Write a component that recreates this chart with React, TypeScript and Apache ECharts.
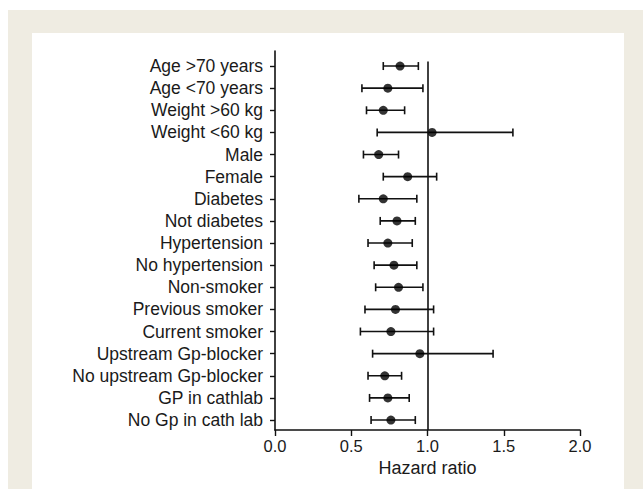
import React, { useEffect, useRef } from "react";
import * as echarts from "echarts";

const labels = [
  "Age >70 years",
  "Age <70 years",
  "Weight >60 kg",
  "Weight <60 kg",
  "Male",
  "Female",
  "Diabetes",
  "Not diabetes",
  "Hypertension",
  "No hypertension",
  "Non-smoker",
  "Previous smoker",
  "Current smoker",
  "Upstream Gp-blocker",
  "No upstream Gp-blocker",
  "GP in cathlab",
  "No Gp in cath lab",
];
const hazardRatio = [0.82, 0.74, 0.71, 1.03, 0.68, 0.87, 0.71, 0.8, 0.74, 0.78, 0.81, 0.79, 0.76, 0.95, 0.72, 0.74, 0.76];
const lowerCI = [0.71, 0.57, 0.6, 0.67, 0.58, 0.71, 0.55, 0.69, 0.61, 0.65, 0.66, 0.59, 0.56, 0.64, 0.61, 0.62, 0.63];
const upperCI = [0.94, 0.97, 0.85, 1.56, 0.81, 1.06, 0.93, 0.92, 0.9, 0.93, 0.97, 1.04, 1.04, 1.43, 0.83, 0.88, 0.92];
const xTicks = [0, 0.5, 1, 1.5, 2];

export default function App() {
  const ref = useRef<HTMLDivElement>(null);
  useEffect(() => {
    if (!ref.current) return;
    const chart = echarts.init(ref.current, null, { renderer: "svg" });
    const positions = labels.map((_, i) => i + 1);
    const font = "'Liberation Sans', Arial, Helvetica, sans-serif";
    chart.setOption({
      animation: false,
      backgroundColor: "transparent",
      grid: { left: 275, right: 63, top: 51, bottom: 59, containLabel: false },
      xAxis: {
        type: "value",
        min: 0,
        max: 2,
        interval: 0.5,
        name: "Hazard ratio",
        nameLocation: "middle",
        nameGap: 27,
        nameTextStyle: { fontSize: 18, color: "#1a1a1a", fontFamily: font },
        axisLine: { show: true, lineStyle: { color: "#111", width: 1.6 } },
        axisTick: { show: true, length: 6, lineStyle: { color: "#111", width: 1.4 } },
        axisLabel: {
          fontSize: 16.5,
          color: "#1a1a1a",
          fontFamily: font,
          margin: 7,
          formatter: (v: number) => v.toFixed(1),
          customValues: xTicks,
        },
        splitLine: { show: false },
      },
      yAxis: {
        type: "value",
        inverse: true,
        min: 0.32,
        max: 17.45,
        axisLine: { show: true, lineStyle: { color: "#111", width: 1.6 } },
        axisTick: { show: true, length: 5, customValues: positions, lineStyle: { color: "#111", width: 1.4 } },
        axisLabel: {
          fontSize: 17.5,
          color: "#1a1a1a",
          fontFamily: font,
          margin: 12,
          customValues: positions,
          formatter: (v: number) => labels[Math.round(v) - 1] ?? "",
        },
        splitLine: { show: false },
      },
      series: [
        {
          type: "custom",
          silent: true,
          data: labels.map((_, i) => [lowerCI[i], upperCI[i], i + 1]),
          renderItem: (params: any, api: any) => {
            const y = api.value(2);
            const a = api.coord([api.value(0), y]);
            const b = api.coord([api.value(1), y]);
            const h = 4;
            const style = { stroke: "#111", lineWidth: 1.6, fill: "none" };
            return {
              type: "group",
              children: [
                { type: "line", shape: { x1: a[0], y1: a[1], x2: b[0], y2: b[1] }, style },
                { type: "line", shape: { x1: a[0], y1: a[1] - h, x2: a[0], y2: a[1] + h }, style },
                { type: "line", shape: { x1: b[0], y1: b[1] - h, x2: b[0], y2: b[1] + h }, style },
              ],
            };
          },
          z: 2,
        },
        {
          type: "scatter",
          silent: true,
          symbol: "circle",
          symbolSize: 9,
          itemStyle: { color: "#000" },
          data: labels.map((_, i) => [hazardRatio[i], i + 1]),
          z: 3,
          markLine: {
            silent: true,
            symbol: ["none", "none"],
            label: { show: false },
            lineStyle: { color: "#111", width: 1.6, type: "solid" },
            data: [[{ coord: [1, 0.8] }, { coord: [1, 17.45] }]],
          },
        },
      ],
    });
    return () => chart.dispose();
  }, []);
  return (
    <div style={{ position: "fixed", left: 0, top: 0, width: 643, height: 489, background: "#fff", overflow: "hidden" }}>
      <div style={{ position: "absolute", left: 8, top: 10, width: 635, height: 479, background: "#efece2" }} />
      <div style={{ position: "absolute", left: 32, top: 33, width: 592, height: 456, background: "#fff" }} />
      <div ref={ref} style={{ position: "absolute", left: 0, top: 0, width: 643, height: 489 }} />
    </div>
  );
}
